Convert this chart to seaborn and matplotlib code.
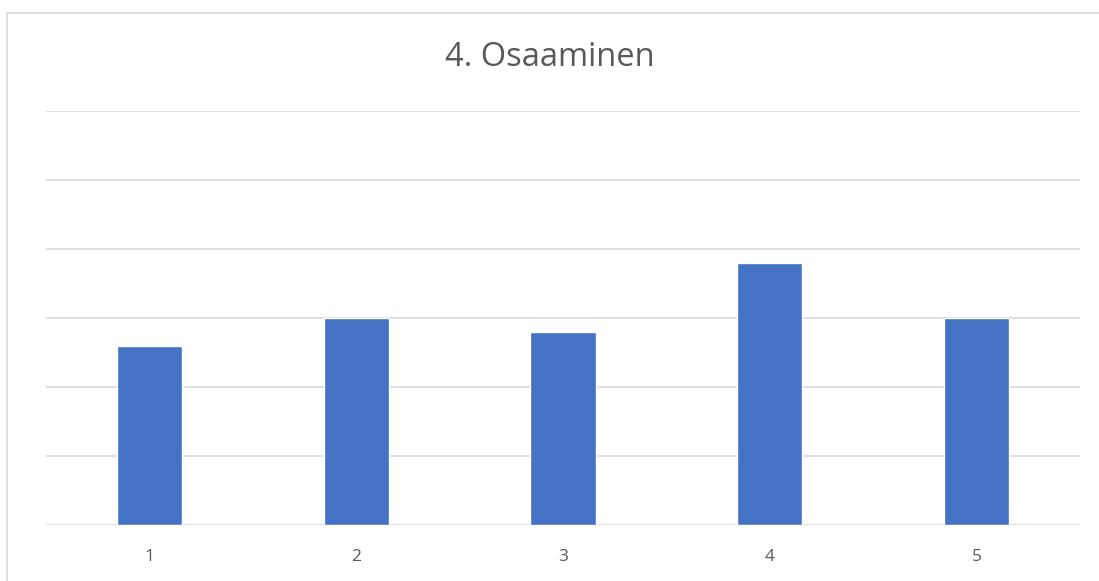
import matplotlib
matplotlib.use("Agg")
import matplotlib.pyplot as plt
import seaborn as sns
import pandas as pd
from matplotlib.lines import Line2D

categories = ["1", "2", "3", "4", "5"]
values = [2.6, 3.0, 2.8, 3.8, 3.0]
title = "4. Osaaminen"

sns.set_theme(style="white")
plt.rcParams['font.family'] = ['Open Sans', 'DejaVu Sans']

W, H = 1099, 581
fig = plt.figure(figsize=(W / 100, H / 100), dpi=100)
ax = fig.add_axes([46 / W, 1 - 525 / H, (1080 - 46) / W, (525 - 111) / H])

df = pd.DataFrame({"cat": categories, "val": values})
sns.barplot(data=df, x="cat", y="val", color="#4472C4", saturation=1, width=0.315, ax=ax)

ax.set_ylim(0, 6)
ax.set_yticks([0, 1, 2, 3, 4, 5, 6])
ax.yaxis.grid(True, color="#D9D9D9", linewidth=1.2)
ax.set_axisbelow(True)
ax.set_yticklabels([])
ax.tick_params(axis="y", length=0)
ax.tick_params(axis="x", length=0, labelsize=12.5, colors="#595959", pad=17)
ax.set_xlabel("")
ax.set_ylabel("")
for s in ax.spines.values():
    s.set_visible(False)

fig.text(0.5, 1 - 57 / H, title, ha="center", va="center", fontsize=23.5, color="#595959")

# chart frame (partially cropped)
fig.add_artist(Line2D([6.5 / W, 6.5 / W], [0, 1 - 12.5 / H], color="#D9D9D9", lw=1.2, transform=fig.transFigure))
fig.add_artist(Line2D([6.5 / W, 1], [1 - 12.5 / H, 1 - 12.5 / H], color="#D9D9D9", lw=1.2, transform=fig.transFigure))

fig.savefig("out.png", dpi=100, facecolor="white")
